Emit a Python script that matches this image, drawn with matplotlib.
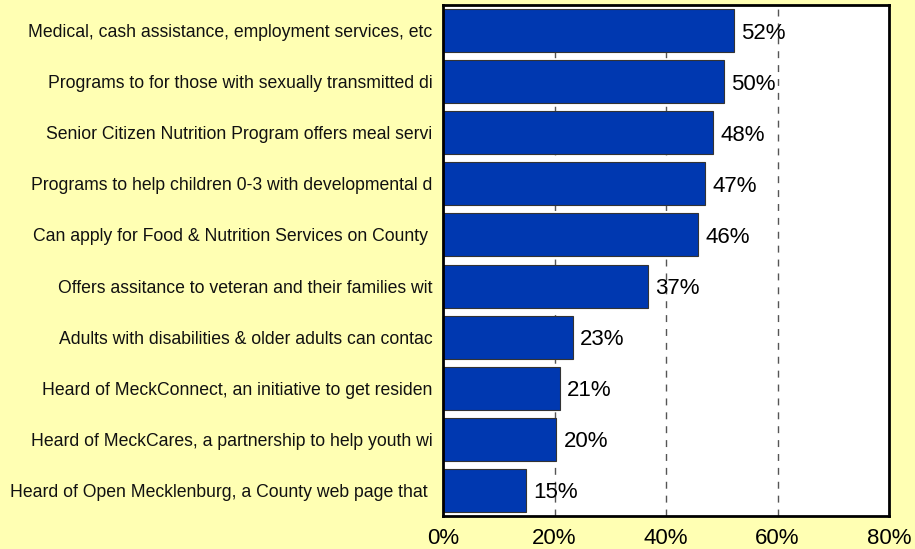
import matplotlib.pyplot as plt
from matplotlib.ticker import FuncFormatter

plt.rcParams['font.family'] = ['Liberation Sans', 'DejaVu Sans']

# categories, top to bottom as shown
categories = [
    "Medical, cash assistance, employment services, etc",
    "Programs to for those with sexually transmitted di",
    "Senior Citizen Nutrition Program offers meal servi",
    "Programs to help children 0-3 with developmental d",
    "Can apply for Food & Nutrition Services on County ",
    "Offers assitance to veteran and their families wit",
    "Adults with disabilities & older adults can contac",
    "Heard of MeckConnect, an initiative to get residen",
    "Heard of MeckCares, a partnership to help youth wi",
    "Heard of Open Mecklenburg, a County web page that ",
]
values = [0.522, 0.504, 0.484, 0.470, 0.457, 0.368, 0.233, 0.210, 0.203, 0.148]
x_ticks = [0, 0.2, 0.4, 0.6, 0.8]

bg = '#FFFFB3'
bar_color = '#0038B0'

fig = plt.figure(figsize=(9.15, 5.49), dpi=100, facecolor=bg)
ax = fig.add_axes([443 / 915, 33 / 549, 446 / 915, 511 / 549])
ax.set_facecolor('white')

y = list(range(len(categories)))[::-1]
ax.barh(y, values, height=0.84, color=bar_color, edgecolor='#333333',
        linewidth=0.8, zorder=2)

for yi, v in zip(y, values):
    ax.text(v + 0.013, yi, f"{round(v * 100):.0f}%", va='center_baseline',
            ha='left', fontsize=16, color='black', zorder=4)

ax.set_xlim(0, 0.8)
ax.set_ylim(-0.5, len(categories) - 0.5)
ax.set_xticks(x_ticks)
ax.xaxis.set_major_formatter(FuncFormatter(lambda v, p: f"{v * 100:.0f}%"))
ax.tick_params(axis='x', length=0, labelsize=16, pad=9)
ax.set_yticks(y)
ax.set_yticklabels(categories, fontsize=12.7, color='#111111')
ax.tick_params(axis='y', length=0, pad=7.5)

# dashed gridlines sit behind the bars
for gx in x_ticks[1:-1]:
    ax.axvline(gx, color='#555555', linestyle=(0, (5, 5)), linewidth=1, zorder=1)

for s in ax.spines.values():
    s.set_linewidth(2)
    s.set_color('black')
    s.set_zorder(5)

fig.savefig('out.png', dpi=100, facecolor=bg)
